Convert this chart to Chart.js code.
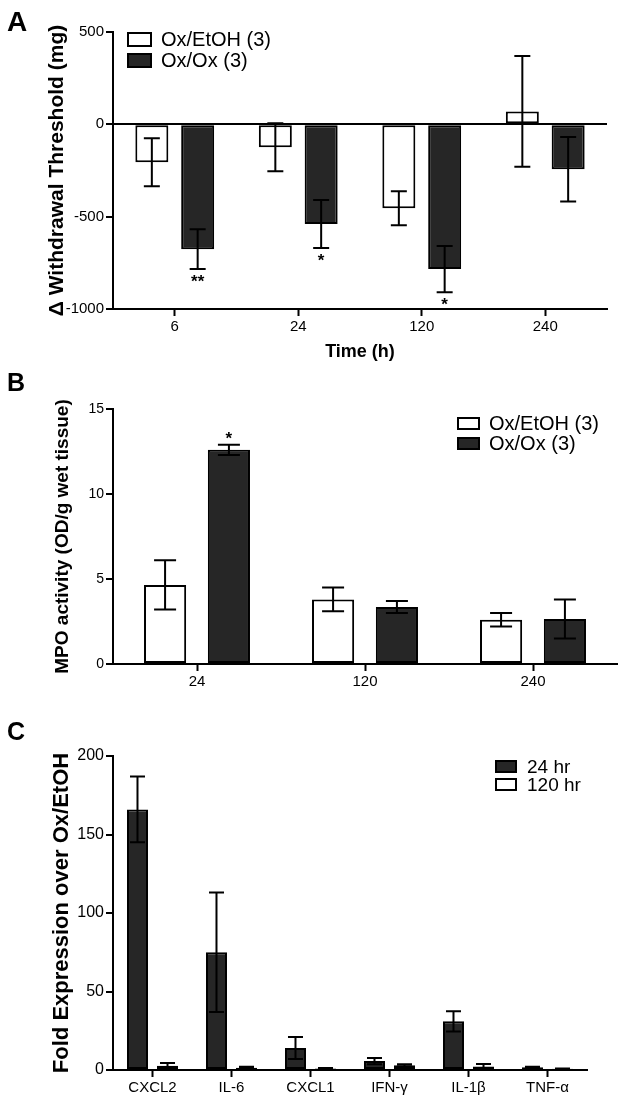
<!DOCTYPE html>
<html>
<head>
<meta charset="utf-8">
<script src="https://cdn.jsdelivr.net/npm/chart.js@4.4.1/dist/chart.umd.min.js"></script>
<style>
  body { margin: 0; background: #fff; width: 624px; height: 1102px; position: relative; overflow: hidden; font-family: "Liberation Sans", Arial, sans-serif; }
  canvas { position: absolute; left: 0; }
  .panel { position: absolute; font-weight: bold; line-height: 1; z-index: 2; }
</style>
</head>
<body>
<canvas id="chartA" width="624" height="370" style="top:0px"></canvas>
<canvas id="chartB" width="624" height="350" style="top:370px"></canvas>
<canvas id="chartC" width="624" height="382" style="top:720px"></canvas>
<div class="panel" style="left:7px;top:8px;font-size:28px">A</div>
<div class="panel" style="left:7px;top:370px;font-size:25px">B</div>
<div class="panel" style="left:7px;top:719px;font-size:25px">C</div>
<script>
// panel A - withdrawal threshold
const timesA = ["6", "24", "120", "240"];
const etohA = [-205, -124, -454, 70];
const etohAErr = [130, 130, 92, 300];
const oxA = [-676, -540, -784, -243];
const oxAErr = [108, 130, 125, 175];
const oxAStars = ["**", "*", "*", ""];

// panel B - MPO activity
const timesB = ["24", "120", "240"];
const etohB = [4.65, 3.8, 2.6];
const etohBErr = [1.45, 0.7, 0.4];
const oxB = [12.6, 3.35, 2.65];
const oxBErr = [0.3, 0.35, 1.15];
const oxBStars = ["*", "", ""];

// panel C - fold expression
const genesC = ["CXCL2", "IL-6", "CXCL1", "IFN-\u03b3", "IL-1\u03b2", "TNF-\u03b1"];
const hr24 = [166, 75, 14, 5.7, 31, 1.8];
const hr24Err = [21, 38, 7, 2, 6.5, 0.3];
const hr120 = [2.7, 1.5, 1, 3, 2.3, 0.8];
const hr120Err = [1.8, 0.5, 0.3, 0.7, 1.5, 0.2];

const FONT = '"Liberation Sans", Arial, sans-serif';
const DARK = "#262626";
Chart.defaults.font.family = FONT;
Chart.defaults.color = "#000";

const errorBars = {
    id: "errorBars",
    afterDatasetsDraw(chart, args, opts) {
        const ctx = chart.ctx;
        const yScale = chart.scales.y;
        ctx.save();
        ctx.strokeStyle = "#000";
        ctx.lineWidth = 2;
        chart.data.datasets.forEach((ds, i) => {
            chart.getDatasetMeta(i).data.forEach((bar, j) => {
                const v = ds.data[j];
                const e = ds.errors[j];
                const x = bar.x;
                const yTop = yScale.getPixelForValue(v + e);
                const yBot = yScale.getPixelForValue(v - e);
                const w = opts.cap / 2;
                ctx.beginPath();
                ctx.moveTo(x, yTop); ctx.lineTo(x, yBot);
                ctx.moveTo(x - w, yTop); ctx.lineTo(x + w, yTop);
                ctx.moveTo(x - w, yBot); ctx.lineTo(x + w, yBot);
                ctx.stroke();
                const s = ds.stars ? ds.stars[j] : "";
                if (s) {
                    ctx.fillStyle = "#000";
                    ctx.font = "bold 17px " + FONT;
                    ctx.textAlign = "center";
                    ctx.textBaseline = "top";
                    if (v < 0) ctx.fillText(s, x, yBot + 5);
                    else ctx.fillText(s, x, yTop - 14);
                }
            });
        });
        ctx.restore();
    }
};

const boxLegend = {
    id: "boxLegend",
    afterDraw(chart, args, opts) {
        const ctx = chart.ctx;
        ctx.save();
        ctx.font = opts.size + "px " + FONT;
        ctx.textBaseline = "middle";
        ctx.textAlign = "left";
        chart.data.datasets.forEach((ds, i) => {
            const top = opts.y + i * opts.row;
            ctx.fillStyle = ds.backgroundColor;
            ctx.fillRect(opts.x, top, opts.boxW, opts.boxH);
            ctx.strokeStyle = "#000";
            ctx.lineWidth = 2;
            ctx.strokeRect(opts.x + 1, top + 1, opts.boxW - 2, opts.boxH - 2);
            ctx.fillStyle = "#000";
            ctx.fillText(ds.label, opts.x + opts.boxW + opts.gap, top + opts.boxH / 2 + 1);
        });
        ctx.restore();
    }
};

function makeChart(id, labels, datasets, cfg) {
    return new Chart(document.getElementById(id), {
        type: "bar",
        data: {
            labels: labels,
            datasets: datasets.map(d => ({
                label: d.label,
                data: d.data,
                errors: d.errors,
                stars: d.stars,
                backgroundColor: d.color,
                borderColor: "#000",
                borderWidth: 2,
                borderSkipped: false,
                categoryPercentage: cfg.cp,
                barPercentage: cfg.bp
            }))
        },
        options: {
            responsive: false,
            animation: false,
            layout: { padding: cfg.padding },
            plugins: {
                legend: { display: false },
                tooltip: { enabled: false },
                errorBars: { cap: cfg.cap },
                boxLegend: cfg.legend
            },
            scales: {
                x: {
                    afterFit: s => { s.height = cfg.xHeight; },
                    grid: { display: true, offset: false, drawOnChartArea: false, drawTicks: true, tickLength: 7, tickWidth: 2, tickColor: "#000" },
                    border: { display: true, color: "#000", width: 2 },
                    ticks: { font: { size: cfg.xTickSize }, padding: 2, maxRotation: 0, autoSkip: false },
                    title: cfg.xTitle ? { display: true, text: cfg.xTitle, font: { size: 18, weight: "bold" }, padding: { top: 0, bottom: 7 } } : { display: false }
                },
                y: {
                    min: cfg.yMin,
                    max: cfg.yMax,
                    afterFit: s => { s.width = cfg.yWidth; },
                    grid: {
                        drawOnChartArea: cfg.zeroLine,
                        color: c => (c.tick && c.tick.value === 0 ? "#000" : "rgba(0,0,0,0)"),
                        lineWidth: 2,
                        tickLength: 7,
                        tickWidth: 2,
                        tickColor: "#000"
                    },
                    border: { display: true, color: "#000", width: 2 },
                    ticks: { stepSize: cfg.step, font: { size: cfg.yTickSize }, padding: 2, callback: v => String(v) },
                    title: { display: true, text: cfg.yTitle, font: { size: cfg.yTitleSize, weight: "bold" }, padding: 0 }
                }
            }
        },
        plugins: [errorBars, boxLegend]
    });
}

makeChart("chartA", timesA, [
    { label: "Ox/EtOH (3)", data: etohA, errors: etohAErr, color: "#fff" },
    { label: "Ox/Ox (3)", data: oxA, errors: oxAErr, stars: oxAStars, color: DARK }
], {
    cp: 0.742, bp: 0.72, cap: 16,
    padding: { left: 45, top: 32, right: 17, bottom: 0 },
    yWidth: 68, xHeight: 61,
    yMin: -1000, yMax: 500, step: 500, zeroLine: true,
    yTitle: "\u0394 Withdrawal Threshold (mg)", yTitleSize: 21,
    xTitle: "Time (h)", xTickSize: 15, yTickSize: 15,
    legend: { x: 127, y: 32, boxW: 25, boxH: 15, row: 21, gap: 9, size: 20 }
});

makeChart("chartB", timesB, [
    { label: "Ox/EtOH (3)", data: etohB, errors: etohBErr, color: "#fff" },
    { label: "Ox/Ox (3)", data: oxB, errors: oxBErr, stars: oxBStars, color: DARK }
], {
    cp: 0.76, bp: 0.66, cap: 22,
    padding: { left: 51, top: 39, right: 7, bottom: 0 },
    yWidth: 62, xHeight: 56,
    yMin: 0, yMax: 15, step: 5, zeroLine: false,
    yTitle: "MPO activity (OD/g wet tissue)", yTitleSize: 19,
    xTitle: null, xTickSize: 15, yTickSize: 14,
    legend: { x: 457, y: 47, boxW: 23, boxH: 13, row: 20, gap: 9, size: 20 }
});

makeChart("chartC", genesC, [
    { label: "24 hr", data: hr24, errors: hr24Err, color: DARK },
    { label: "120 hr", data: hr120, errors: hr120Err, color: "#fff" }
], {
    cp: 0.76, bp: 0.7, cap: 15,
    padding: { left: 49, top: 36, right: 37, bottom: 0 },
    yWidth: 64, xHeight: 32,
    yMin: 0, yMax: 200, step: 50, zeroLine: false,
    yTitle: "Fold Expression over Ox/EtOH", yTitleSize: 22,
    xTitle: null, xTickSize: 15, yTickSize: 16,
    legend: { x: 495, y: 40, boxW: 22, boxH: 13, row: 18, gap: 10, size: 19 }
});
</script>
</body>
</html>
